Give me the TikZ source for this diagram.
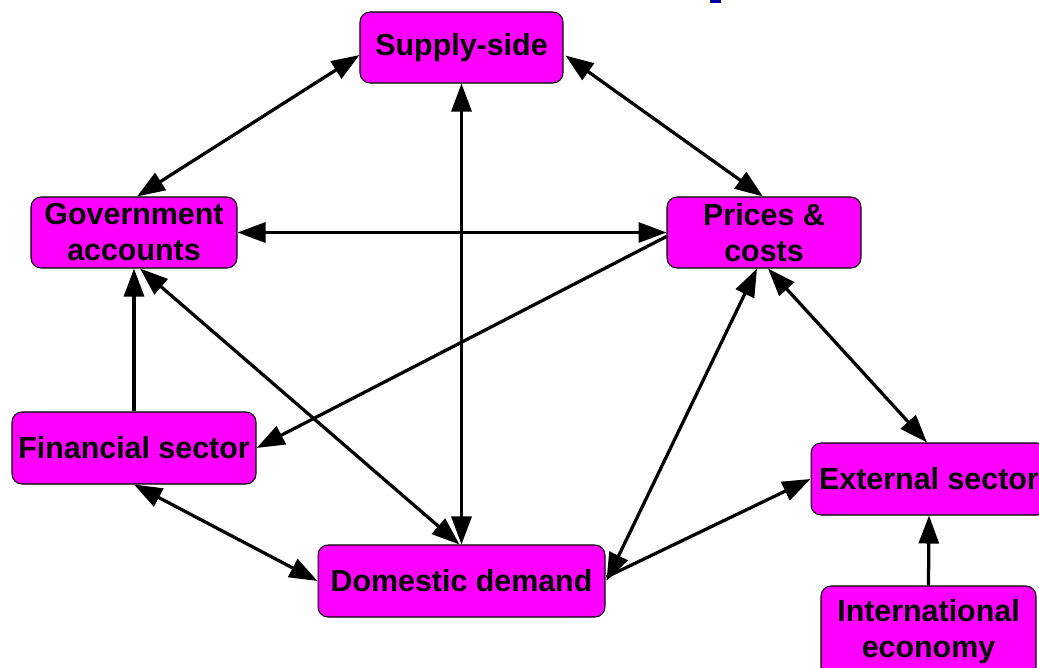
\documentclass[tikz,border=0pt]{standalone}
\usepackage{fontspec}
\setmainfont{Liberation Sans}
\usetikzlibrary{arrows.meta,calc}
\definecolor{boxfill}{RGB}{255,0,255}
\definecolor{titleblue}{RGB}{0,0,160}
\begin{document}
\begin{tikzpicture}[x=0.02cm,y=-0.02cm,
  blk/.style={draw=black, line width=0.6pt, fill=boxfill, rounded corners=0.2cm,
    inner sep=0pt, align=center,
    font=\fontsize{17.3}{20.5}\selectfont\bfseries},
  conn/.style={line width=0.065cm},
  tip/.style={-{Triangle[length=0.56cm,width=0.4cm]}},
  dbl/.style={{Triangle[length=0.56cm,width=0.4cm]}-{Triangle[length=0.56cm,width=0.4cm]}}
]
\useasboundingbox (0,0) rectangle (1039,667);
\clip (0,0) rectangle (1039,667);
\fill[titleblue] (710,0) rectangle (721,3);

\node[blk, minimum width=4.06cm, minimum height=1.42cm] (sup) at (461.5,47.5) {Supply-side};
\node[blk, minimum width=4.12cm, minimum height=1.42cm] (gov) at (134,232.5) {Government\\accounts};
\node[blk, minimum width=3.88cm, minimum height=1.42cm] (pri) at (764,232.5) {Prices \&\\costs};
\node[blk, minimum width=4.88cm, minimum height=1.44cm] (fin) at (134,448) {Financial sector};
\node[blk, minimum width=4.72cm, minimum height=1.44cm] (ext) at (929,479) {External sector};
\node[blk, minimum width=5.74cm, minimum height=1.44cm] (dom) at (461.5,581) {Domestic demand};
\node[blk, minimum width=4.3cm, minimum height=1.84cm] (int) at (928.5,632) {International\\economy};

\draw[conn,dbl] ($(sup.west)+(0,7.5)$) -- ($(gov.north)+(3,0)$);
\draw[conn,dbl] ($(sup.east)+(2,8)$) -- ($(pri.north)+(-1,0)$);
\draw[conn,dbl] (sup.south) -- (dom.north);
\draw[conn,dbl] (gov.east) -- (pri.west);
\draw[conn,tip] ($(pri.west)+(0,4)$) -- (fin.east);
\draw[conn,tip] (fin.north) -- (gov.south);
\draw[conn,dbl] ($(gov.south)+(6,0)$) -- ($(dom.north)+(-2,0)$);
\draw[conn,dbl] (fin.south) -- (dom.west);
\draw[conn,dbl] ($(pri.south)+(-7,0)$) -- ($(dom.east)+(1,0)$);
\draw[conn,dbl] ($(pri.south)+(4,0)$) -- ($(ext.north)+(-2,0)$);
\draw[conn,tip] ($(dom.east)+(1,-4)$) -- (ext.west);
\draw[conn,tip] (int.north) -- (ext.south);
\end{tikzpicture}
\end{document}
